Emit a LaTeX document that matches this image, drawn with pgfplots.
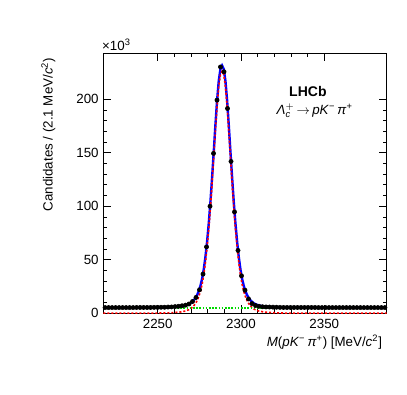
\documentclass[border=0pt]{standalone}
\usepackage{amsmath}
\usepackage{pgfplots}
\pgfplotsset{compat=1.18}
\usepackage{pgfplotstable}
\usepackage{fontspec}
\setmainfont{Liberation Sans}

\pgfplotstableread{
x y
2218.4 5.3
2220.5 5.3
2222.6 5.3
2224.7 5.3
2226.8 5.3
2228.9 5.3
2231.0 5.3
2233.1 5.3
2235.2 5.3
2237.3 5.4
2239.4 5.4
2241.5 5.4
2243.6 5.4
2245.7 5.4
2247.8 5.5
2249.9 5.5
2252.0 5.6
2254.1 5.6
2256.2 5.8
2258.3 5.9
2260.4 6.2
2262.5 6.5
2264.6 7.0
2266.7 7.6
2268.8 8.7
2270.9 11.0
2273.0 14.8
2275.1 21.9
2277.2 36.6
2279.3 62.0
2281.4 100.0
2283.5 149.4
2285.6 199.2
2287.7 230.2
2289.8 225.7
2291.9 191.4
2294.0 141.9
2296.1 94.7
2298.2 58.7
2300.3 35.0
2302.4 21.5
2304.5 13.4
2306.6 9.0
2308.7 7.2
2310.8 6.5
2312.9 6.1
2315.0 5.9
2317.1 5.8
2319.2 5.7
2321.3 5.6
2323.4 5.5
2325.5 5.4
2327.6 5.4
2329.7 5.4
2331.8 5.4
2333.9 5.4
2336.0 5.4
2338.1 5.4
2340.2 5.4
2342.3 5.4
2344.4 5.4
2346.5 5.3
2348.6 5.3
2350.7 5.3
2352.8 5.3
2354.9 5.3
2357.0 5.3
2359.1 5.3
2361.2 5.3
2363.3 5.3
2365.4 5.3
2367.5 5.3
2369.6 5.3
2371.7 5.3
2373.8 5.3
2375.9 5.3
2378.0 5.3
2380.1 5.3
2382.2 5.3
2384.3 5.3
2386.4 5.3
}\datatable

\pgfplotstableread{
x tot sig
2217.35 5.2 0
2228.65 5.2 0
2243.65 5.25 0.05
2253.65 5.45 0.25
2258.65 5.75 0.55
2263.65 6.4 1.2
2266.65 7.3 2.1
2268.65 8.5 3.3
2269.65 9.4 4.2
2270.65 10.6 5.4
2271.65 12.2 7.0
2272.65 14.2 9.0
2273.65 17.0 11.8
2274.65 20.7 15.5
2275.65 25.7 20.5
2276.65 32.2 27.0
2277.65 41.2 36.0
2278.65 52.7 47.5
2279.65 67.2 62.0
2280.65 84.2 79.0
2281.65 104.2 99.0
2282.65 127.2 122.0
2283.65 151.2 146.0
2284.65 176.2 171.0
2285.65 199.2 194.0
2286.65 217.2 212.0
2287.65 228.2 223.0
2288.65 231.5 226.3
2289.65 228.2 223.0
2290.65 217.2 212.0
2291.65 199.2 194.0
2292.65 176.2 171.0
2293.65 151.2 146.0
2294.65 127.2 122.0
2295.65 104.2 99.0
2296.65 84.2 79.0
2297.65 67.2 62.0
2298.65 52.7 47.5
2299.65 41.2 36.0
2300.65 32.2 27.0
2301.65 25.7 20.5
2302.65 20.7 15.5
2303.65 17.0 11.8
2304.65 14.2 9.0
2305.65 12.2 7.0
2306.65 10.6 5.4
2307.65 9.4 4.2
2308.65 8.5 3.3
2310.65 7.3 2.1
2313.65 6.4 1.2
2318.65 5.75 0.55
2323.65 5.45 0.25
2333.65 5.25 0.05
2348.65 5.2 0
2387.45 5.2 0
}\fittable

\pgfplotstableread{
x y
2217.35 5.2
2387.45 5.2
}\bkgtable

\begin{document}
\begin{tikzpicture}
\path[use as bounding box] (0,0) rectangle (305.25pt,296.25pt);
\begin{axis}[
  at={(77.5pt,61.3pt)}, anchor=south west,
  scale only axis, width=212.5pt, height=195pt,
  xmin=2217.35, xmax=2387.45, ymin=0, ymax=243,
  xtick={2250,2300,2350}, ytick={0,50,100,150,200},
  minor x tick num=4, minor y tick num=4,
  tick align=inside, xtick pos=both, ytick pos=both,
  major tick length=6pt, minor tick length=3pt,
  tick style={black, line width=0.6pt},
  axis line style={black, line width=0.7pt},
  /pgf/number format/assume math mode=true,
  /pgf/number format/1000 sep={},
  ticklabel style={font=\fontsize{10}{12}\selectfont},
  xticklabel style={yshift=-1pt},
  xlabel={\textit{M}(\textit{pK}\textsuperscript{−}\,\textit{π}\textsuperscript{+}) [MeV/\textit{c}\textsuperscript{2}]},
  ylabel={Candidates / (2.1 MeV/\textit{c}\textsuperscript{2})},
  x label style={font=\fontsize{10}{12}\selectfont},
  y label style={font=\fontsize{10.6}{12}\selectfont},
  every axis x label/.style={at={([yshift=-25pt]rel axis cs:1,0)}, anchor=base east},
  every axis y label/.style={at={([xshift=-38pt]rel axis cs:0,1)}, anchor=base east, rotate=90},
  clip mode=individual,
]
\addplot[blue, line width=1.8pt] table[x=x, y=tot] {\fittable};
\addplot[red, line width=1.2pt, dash pattern=on 1.6pt off 1.4pt] table[x=x, y=sig] {\fittable};
\addplot[green!85!black, line width=1.5pt, dash pattern=on 1.2pt off 1.2pt] table[x=x, y=y] {\bkgtable};
\addplot[only marks, mark=*, mark size=1.6pt, black,
  error bars/.cd, x dir=both, x fixed=1.05,
  error bar style={black, line width=1.2pt}, error mark=none]
  table[x=x, y=y] {\datatable};
\node[font=\fontsize{10.5}{12}\selectfont\bfseries] at (rel axis cs:0.722,0.853) {LHCb};
\node[font=\fontsize{10}{12}\selectfont] at (rel axis cs:0.746,0.78) {\textit{Λ}$^{+}_{\textit{c}}$\,$\rightarrow$\,\textit{pK}\textsuperscript{−}\,\textit{π}\textsuperscript{+}};
\node[font=\fontsize{10}{12}\selectfont, anchor=south west, inner sep=0pt] at (rel axis cs:-0.005,1.008) {×10\textsuperscript{3}};
\end{axis}
\end{tikzpicture}
\end{document}
